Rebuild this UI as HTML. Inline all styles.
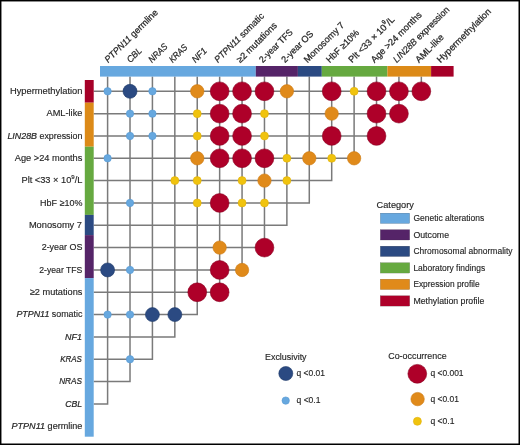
<!DOCTYPE html><html><head><meta charset="utf-8"><style>html,body{margin:0;padding:0;background:#fff;}svg{display:block;will-change:transform;}</style></head><body><svg width="520" height="445" viewBox="0 0 520 445">
<rect width="520" height="445" fill="#fff"/>
<path d="M93.7 91.30H422.09 M93.7 113.63H399.68 M93.7 135.96H377.27 M93.7 158.29H354.86 M93.7 180.62H332.45 M93.7 202.95H310.04 M93.7 225.28H287.63 M93.7 247.61H265.22 M93.7 269.94H242.81 M93.7 292.27H220.40 M93.7 314.60H197.99 M93.7 336.93H175.58 M93.7 359.26H153.17 M93.7 381.59H130.76 M93.7 403.92H108.35 M107.60 76.6V404.67 M130.01 76.6V382.34 M152.42 76.6V360.01 M174.83 76.6V337.68 M197.24 76.6V315.35 M219.65 76.6V293.02 M242.06 76.6V270.69 M264.47 76.6V248.36 M286.88 76.6V226.03 M309.29 76.6V203.70 M331.70 76.6V181.37 M354.11 76.6V159.04 M376.52 76.6V136.71 M398.93 76.6V114.38 M421.34 76.6V92.05" stroke="#7a7a7a" stroke-width="1.5" fill="none"/>
<rect x="100" y="66" width="155.80" height="10.6" fill="#67A8DF"/>
<rect x="255.8" y="66" width="42.10" height="10.6" fill="#552468"/>
<rect x="297.9" y="66" width="23.90" height="10.6" fill="#2B4A82"/>
<rect x="321.8" y="66" width="65.60" height="10.6" fill="#66A940"/>
<rect x="387.4" y="66" width="43.70" height="10.6" fill="#DC8A18"/>
<rect x="431.1" y="66" width="22.50" height="10.6" fill="#A60028"/>
<rect x="84.8" y="80" width="8.9" height="22.70" fill="#A60028"/>
<rect x="84.8" y="102.7" width="8.9" height="44.00" fill="#DC8A18"/>
<rect x="84.8" y="146.7" width="8.9" height="68.20" fill="#66A940"/>
<rect x="84.8" y="214.9" width="8.9" height="20.20" fill="#2B4A82"/>
<rect x="84.8" y="235.1" width="8.9" height="43.00" fill="#552468"/>
<rect x="84.8" y="278.1" width="8.9" height="158.60" fill="#67A8DF"/>
<circle cx="107.60" cy="91.30" r="3.70" fill="#67A8DF" stroke="#5598D4" stroke-width="0.6"/>
<circle cx="130.01" cy="91.30" r="7.00" fill="#2B4A82" stroke="#1F3A6A" stroke-width="0.6"/>
<circle cx="152.42" cy="91.30" r="3.70" fill="#67A8DF" stroke="#5598D4" stroke-width="0.6"/>
<circle cx="197.24" cy="91.30" r="6.70" fill="#E08A1A" stroke="#CC7A12" stroke-width="0.6"/>
<circle cx="219.65" cy="91.30" r="9.40" fill="#AE0029" stroke="#8A0020" stroke-width="0.6"/>
<circle cx="242.06" cy="91.30" r="9.40" fill="#AE0029" stroke="#8A0020" stroke-width="0.6"/>
<circle cx="264.47" cy="91.30" r="9.40" fill="#AE0029" stroke="#8A0020" stroke-width="0.6"/>
<circle cx="286.88" cy="91.30" r="6.70" fill="#E08A1A" stroke="#CC7A12" stroke-width="0.6"/>
<circle cx="331.70" cy="91.30" r="9.40" fill="#AE0029" stroke="#8A0020" stroke-width="0.6"/>
<circle cx="354.11" cy="91.30" r="4.00" fill="#F0C30E" stroke="#E0B00A" stroke-width="0.6"/>
<circle cx="376.52" cy="91.30" r="9.40" fill="#AE0029" stroke="#8A0020" stroke-width="0.6"/>
<circle cx="398.93" cy="91.30" r="9.40" fill="#AE0029" stroke="#8A0020" stroke-width="0.6"/>
<circle cx="421.34" cy="91.30" r="9.40" fill="#AE0029" stroke="#8A0020" stroke-width="0.6"/>
<circle cx="130.01" cy="113.63" r="3.70" fill="#67A8DF" stroke="#5598D4" stroke-width="0.6"/>
<circle cx="152.42" cy="113.63" r="3.70" fill="#67A8DF" stroke="#5598D4" stroke-width="0.6"/>
<circle cx="197.24" cy="113.63" r="4.00" fill="#F0C30E" stroke="#E0B00A" stroke-width="0.6"/>
<circle cx="219.65" cy="113.63" r="9.40" fill="#AE0029" stroke="#8A0020" stroke-width="0.6"/>
<circle cx="242.06" cy="113.63" r="9.40" fill="#AE0029" stroke="#8A0020" stroke-width="0.6"/>
<circle cx="264.47" cy="113.63" r="4.00" fill="#F0C30E" stroke="#E0B00A" stroke-width="0.6"/>
<circle cx="331.70" cy="113.63" r="6.70" fill="#E08A1A" stroke="#CC7A12" stroke-width="0.6"/>
<circle cx="376.52" cy="113.63" r="9.40" fill="#AE0029" stroke="#8A0020" stroke-width="0.6"/>
<circle cx="398.93" cy="113.63" r="9.40" fill="#AE0029" stroke="#8A0020" stroke-width="0.6"/>
<circle cx="130.01" cy="135.96" r="3.70" fill="#67A8DF" stroke="#5598D4" stroke-width="0.6"/>
<circle cx="152.42" cy="135.96" r="3.70" fill="#67A8DF" stroke="#5598D4" stroke-width="0.6"/>
<circle cx="197.24" cy="135.96" r="4.00" fill="#F0C30E" stroke="#E0B00A" stroke-width="0.6"/>
<circle cx="219.65" cy="135.96" r="9.40" fill="#AE0029" stroke="#8A0020" stroke-width="0.6"/>
<circle cx="242.06" cy="135.96" r="9.40" fill="#AE0029" stroke="#8A0020" stroke-width="0.6"/>
<circle cx="264.47" cy="135.96" r="4.00" fill="#F0C30E" stroke="#E0B00A" stroke-width="0.6"/>
<circle cx="331.70" cy="135.96" r="9.40" fill="#AE0029" stroke="#8A0020" stroke-width="0.6"/>
<circle cx="376.52" cy="135.96" r="9.40" fill="#AE0029" stroke="#8A0020" stroke-width="0.6"/>
<circle cx="107.60" cy="158.29" r="3.70" fill="#67A8DF" stroke="#5598D4" stroke-width="0.6"/>
<circle cx="197.24" cy="158.29" r="6.70" fill="#E08A1A" stroke="#CC7A12" stroke-width="0.6"/>
<circle cx="219.65" cy="158.29" r="9.40" fill="#AE0029" stroke="#8A0020" stroke-width="0.6"/>
<circle cx="242.06" cy="158.29" r="9.40" fill="#AE0029" stroke="#8A0020" stroke-width="0.6"/>
<circle cx="264.47" cy="158.29" r="9.40" fill="#AE0029" stroke="#8A0020" stroke-width="0.6"/>
<circle cx="286.88" cy="158.29" r="4.00" fill="#F0C30E" stroke="#E0B00A" stroke-width="0.6"/>
<circle cx="309.29" cy="158.29" r="6.70" fill="#E08A1A" stroke="#CC7A12" stroke-width="0.6"/>
<circle cx="331.70" cy="158.29" r="4.00" fill="#F0C30E" stroke="#E0B00A" stroke-width="0.6"/>
<circle cx="354.11" cy="158.29" r="6.70" fill="#E08A1A" stroke="#CC7A12" stroke-width="0.6"/>
<circle cx="174.83" cy="180.62" r="4.00" fill="#F0C30E" stroke="#E0B00A" stroke-width="0.6"/>
<circle cx="197.24" cy="180.62" r="4.00" fill="#F0C30E" stroke="#E0B00A" stroke-width="0.6"/>
<circle cx="242.06" cy="180.62" r="4.00" fill="#F0C30E" stroke="#E0B00A" stroke-width="0.6"/>
<circle cx="264.47" cy="180.62" r="6.70" fill="#E08A1A" stroke="#CC7A12" stroke-width="0.6"/>
<circle cx="286.88" cy="180.62" r="4.00" fill="#F0C30E" stroke="#E0B00A" stroke-width="0.6"/>
<circle cx="130.01" cy="202.95" r="3.70" fill="#67A8DF" stroke="#5598D4" stroke-width="0.6"/>
<circle cx="197.24" cy="202.95" r="4.00" fill="#F0C30E" stroke="#E0B00A" stroke-width="0.6"/>
<circle cx="219.65" cy="202.95" r="9.40" fill="#AE0029" stroke="#8A0020" stroke-width="0.6"/>
<circle cx="242.06" cy="202.95" r="4.00" fill="#F0C30E" stroke="#E0B00A" stroke-width="0.6"/>
<circle cx="264.47" cy="202.95" r="4.00" fill="#F0C30E" stroke="#E0B00A" stroke-width="0.6"/>
<circle cx="219.65" cy="247.61" r="6.70" fill="#E08A1A" stroke="#CC7A12" stroke-width="0.6"/>
<circle cx="264.47" cy="247.61" r="9.40" fill="#AE0029" stroke="#8A0020" stroke-width="0.6"/>
<circle cx="107.60" cy="269.94" r="7.00" fill="#2B4A82" stroke="#1F3A6A" stroke-width="0.6"/>
<circle cx="130.01" cy="269.94" r="3.70" fill="#67A8DF" stroke="#5598D4" stroke-width="0.6"/>
<circle cx="219.65" cy="269.94" r="9.40" fill="#AE0029" stroke="#8A0020" stroke-width="0.6"/>
<circle cx="242.06" cy="269.94" r="6.70" fill="#E08A1A" stroke="#CC7A12" stroke-width="0.6"/>
<circle cx="197.24" cy="292.27" r="9.40" fill="#AE0029" stroke="#8A0020" stroke-width="0.6"/>
<circle cx="219.65" cy="292.27" r="9.40" fill="#AE0029" stroke="#8A0020" stroke-width="0.6"/>
<circle cx="107.60" cy="314.60" r="3.70" fill="#67A8DF" stroke="#5598D4" stroke-width="0.6"/>
<circle cx="130.01" cy="314.60" r="3.70" fill="#67A8DF" stroke="#5598D4" stroke-width="0.6"/>
<circle cx="152.42" cy="314.60" r="7.00" fill="#2B4A82" stroke="#1F3A6A" stroke-width="0.6"/>
<circle cx="174.83" cy="314.60" r="7.00" fill="#2B4A82" stroke="#1F3A6A" stroke-width="0.6"/>
<circle cx="130.01" cy="359.26" r="3.70" fill="#67A8DF" stroke="#5598D4" stroke-width="0.6"/>
<g font-family="Liberation Sans, sans-serif" font-size="9.2" fill="#262626" stroke="#262626" stroke-width="0.15">
<text transform="translate(82.40 94.10) scale(1.014 1)" text-anchor="end">Hypermethylation</text>
<text transform="translate(82.40 116.43) scale(1.004 1)" text-anchor="end">AML-like</text>
<text transform="translate(82.40 138.76) scale(0.967 1)" text-anchor="end"><tspan font-style="italic" stroke-width="0.22">LIN28B</tspan> expression</text>
<text transform="translate(82.40 161.09) scale(1.007 1)" text-anchor="end">Age &gt;24 months</text>
<text transform="translate(82.40 183.42) scale(1.005 1)" text-anchor="end">Plt &lt;33 × 10<tspan font-size="6" dy="-4.6">9</tspan><tspan dy="4.6">/L</tspan></text>
<text transform="translate(82.40 205.75) scale(0.975 1)" text-anchor="end">HbF ≥10%</text>
<text transform="translate(82.00 228.08) scale(1.009 1)" text-anchor="end">Monosomy 7</text>
<text transform="translate(82.40 250.41) scale(0.973 1)" text-anchor="end">2-year OS</text>
<text transform="translate(82.40 272.74) scale(0.941 1)" text-anchor="end">2-year TFS</text>
<text transform="translate(82.40 295.07) scale(1.002 1)" text-anchor="end">≥2 mutations</text>
<text transform="translate(82.40 317.40) scale(0.967 1)" text-anchor="end"><tspan font-style="italic" stroke-width="0.22">PTPN11</tspan> somatic</text>
<text transform="translate(82.00 339.73) scale(0.972 1)" text-anchor="end"><tspan font-style="italic" stroke-width="0.22">NF1</tspan></text>
<text transform="translate(81.90 362.06) scale(0.861 1)" text-anchor="end"><tspan font-style="italic" stroke-width="0.22">KRAS</tspan></text>
<text transform="translate(81.90 384.39) scale(0.891 1)" text-anchor="end"><tspan font-style="italic" stroke-width="0.22">NRAS</tspan></text>
<text transform="translate(82.20 406.72) scale(0.945 1)" text-anchor="end"><tspan font-style="italic" stroke-width="0.22">CBL</tspan></text>
<text transform="translate(82.40 429.05) scale(0.989 1)" text-anchor="end"><tspan font-style="italic" stroke-width="0.22">PTPN11</tspan> germline</text>
<text transform="translate(108.30 63.3) rotate(-45) scale(0.989 1)" stroke-width="0.25"><tspan font-style="italic" stroke-width="0.22">PTPN11</tspan> germline</text>
<text transform="translate(130.41 63.3) rotate(-45) scale(0.945 1)" stroke-width="0.25"><tspan font-style="italic" stroke-width="0.22">CBL</tspan></text>
<text transform="translate(152.02 63.3) rotate(-45) scale(0.891 1)" stroke-width="0.25"><tspan font-style="italic" stroke-width="0.22">NRAS</tspan></text>
<text transform="translate(172.63 63.3) rotate(-45) scale(0.861 1)" stroke-width="0.25"><tspan font-style="italic" stroke-width="0.22">KRAS</tspan></text>
<text transform="translate(195.54 63.3) rotate(-45) scale(0.972 1)" stroke-width="0.25"><tspan font-style="italic" stroke-width="0.22">NF1</tspan></text>
<text transform="translate(217.95 63.3) rotate(-45) scale(0.967 1)" stroke-width="0.25"><tspan font-style="italic" stroke-width="0.22">PTPN11</tspan> somatic</text>
<text transform="translate(240.36 63.3) rotate(-45) scale(1.002 1)" stroke-width="0.25">≥2 mutations</text>
<text transform="translate(262.77 63.3) rotate(-45) scale(0.941 1)" stroke-width="0.25">2-year TFS</text>
<text transform="translate(285.08 63.3) rotate(-45) scale(0.973 1)" stroke-width="0.25">2-year OS</text>
<text transform="translate(307.39 63.3) rotate(-45) scale(1.009 1)" stroke-width="0.25">Monosomy 7</text>
<text transform="translate(329.70 63.3) rotate(-45) scale(0.975 1)" stroke-width="0.25">HbF ≥10%</text>
<text transform="translate(352.11 63.3) rotate(-45) scale(1.005 1)" stroke-width="0.25">Plt &lt;33 × 10<tspan font-size="6" dy="-4.6">9</tspan><tspan dy="4.6">/L</tspan></text>
<text transform="translate(374.52 63.3) rotate(-45) scale(1.007 1)" stroke-width="0.25">Age &gt;24 months</text>
<text transform="translate(396.83 63.3) rotate(-45) scale(0.967 1)" stroke-width="0.25"><tspan font-style="italic" stroke-width="0.22">LIN28B</tspan> expression</text>
<text transform="translate(419.04 63.3) rotate(-45) scale(1.004 1)" stroke-width="0.25">AML-like</text>
<text transform="translate(440.45 63.3) rotate(-45) scale(1.014 1)" stroke-width="0.25">Hypermethylation</text>
<text x="376.6" y="207.5">Category</text>
<rect x="380.3" y="213.10" width="29.4" height="10.4" fill="#67A8DF"/>
<text transform="translate(413.4 221.10) scale(0.924 1)">Genetic alterations</text>
<rect x="380.3" y="229.62" width="29.4" height="10.4" fill="#552468"/>
<text transform="translate(413.4 237.62) scale(0.956 1)">Outcome</text>
<rect x="380.3" y="246.14" width="29.4" height="10.4" fill="#2B4A82"/>
<text transform="translate(413.4 254.14) scale(0.925 1)">Chromosomal abnormality</text>
<rect x="380.3" y="262.66" width="29.4" height="10.4" fill="#66A940"/>
<text transform="translate(413.4 270.66) scale(0.918 1)">Laboratory findings</text>
<rect x="380.3" y="279.18" width="29.4" height="10.4" fill="#E08A1A"/>
<text transform="translate(413.4 287.18) scale(0.907 1)">Expression profile</text>
<rect x="380.3" y="295.70" width="29.4" height="10.4" fill="#AE0029"/>
<text transform="translate(413.4 303.70) scale(0.952 1)">Methylation profile</text>
<text transform="translate(265.0 360.2) scale(0.97 1)">Exclusivity</text>
<circle cx="285.80" cy="373.50" r="7.00" fill="#2B4A82" stroke="#1F3A6A" stroke-width="0.6"/>
<text transform="translate(296.5 376.3) scale(0.92 1)">q &lt;0.01</text>
<circle cx="285.70" cy="400.60" r="3.70" fill="#67A8DF" stroke="#5598D4" stroke-width="0.6"/>
<text transform="translate(296.5 403.4) scale(0.93 1)">q &lt;0.1</text>
<text transform="translate(388.2 358.5) scale(0.97 1)">Co-occurrence</text>
<circle cx="417.30" cy="373.80" r="9.40" fill="#AE0029" stroke="#8A0020" stroke-width="0.6"/>
<text transform="translate(430.4 376.0) scale(0.92 1)">q &lt;0.001</text>
<circle cx="417.60" cy="399.10" r="6.70" fill="#E08A1A" stroke="#CC7A12" stroke-width="0.6"/>
<text transform="translate(430.4 402.2) scale(0.92 1)">q &lt;0.01</text>
<circle cx="417.40" cy="421.30" r="4.00" fill="#F0C30E" stroke="#E0B00A" stroke-width="0.6"/>
<text transform="translate(430.4 424.0) scale(0.93 1)">q &lt;0.1</text>
</g>
<rect x="0" y="0" width="1.45" height="445" fill="#000"/>
<rect x="0" y="0" width="520" height="1.45" fill="#000"/>
<rect x="518.5" y="0" width="1.5" height="445" fill="#000"/>
<rect x="0" y="443.5" width="520" height="1.5" fill="#000"/>
</svg></body></html>
